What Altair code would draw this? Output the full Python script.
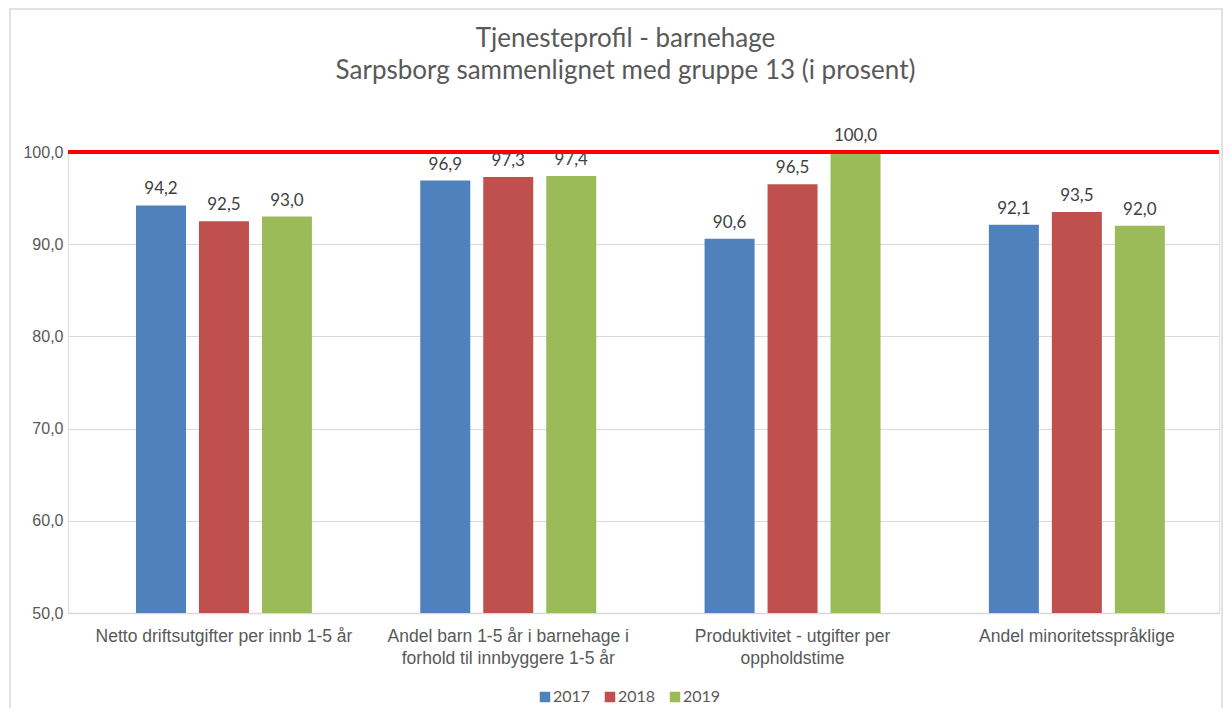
import altair as alt
import pandas as pd

# ---- data ----
categories = [
    "Netto driftsutgifter per innb 1-5 år",
    "Andel barn 1-5 år i barnehage i|forhold til innbyggere 1-5 år",
    "Produktivitet - utgifter per|oppholdstime",
    "Andel minoritetsspråklige",
]
years = ["2017", "2018", "2019"]
values_2017 = [94.2, 96.9, 90.6, 92.1]
values_2018 = [92.5, 97.3, 96.5, 93.5]
values_2019 = [93.0, 97.4, 100.0, 92.0]
colors = ["#4F81BD", "#C0504D", "#9BBB59"]
reference_level = [100.0]
y_min = 50
y_ticks = [50, 60, 70, 80, 90, 100]
title_lines = ["Tjenesteprofil - barnehage", "Sarpsborg sammenlignet med gruppe 13 (i prosent)"]

rows = []
for yr, vals in zip(years, [values_2017, values_2018, values_2019]):
    for c, v in zip(categories, vals):
        rows.append({"kategori": c, "aar": yr, "verdi": v})
df = pd.DataFrame(rows)

W, H = 1151, 461
FONT = "Lato"
GRAY = "#595959"

x_enc = alt.X(
    "kategori:N",
    sort=categories,
    scale=alt.Scale(paddingInner=0, paddingOuter=0.0243, align=1),
    axis=alt.Axis(
        title=None,
        labelExpr="split(datum.label, '|')",
        labelAngle=0,
        labelFontSize=17.5,
        labelColor=GRAY,
        labelPadding=14,
        labelLineHeight=22,
        labelLimit=0,
        domainColor="#D9D9D9",
        domainWidth=1.5,
        ticks=False,
        grid=False,
    ),
)
xoff = alt.XOffset("aar:N", sort=years, scale=alt.Scale(paddingInner=0.206, paddingOuter=0.86))
y_enc = alt.Y(
    "verdi:Q",
    scale=alt.Scale(domain=[y_min, 100], nice=False, zero=False),
    axis=alt.Axis(
        values=y_ticks,
        title=None,
        labelExpr="replace(format(datum.value, '.1f'), '.', ',')",
        gridColor="#D9D9D9",
        domain=False,
        ticks=False,
        labelFontSize=16,
        labelColor=GRAY,
        labelPadding=5,
    ),
)

frame = alt.Chart(pd.DataFrame({"f": [0]})).mark_rect(
    fillOpacity=0, stroke="#D9D9D9", strokeWidth=1.5
).encode(
    x=alt.value(-58), x2=alt.value(W + 3), y=alt.value(-143), y2=alt.value(H + 120)
)

bars = alt.Chart(df).mark_bar().encode(
    x=x_enc,
    xOffset=xoff,
    y=y_enc,
    y2=alt.datum(y_min),
    color=alt.Color(
        "aar:N",
        scale=alt.Scale(domain=years, range=colors),
        legend=alt.Legend(
            title=None,
            orient="none",
            legendX=469,
            legendY=537,
            direction="horizontal",
            symbolType="square",
            symbolSize=110,
            symbolStrokeWidth=0,
            labelFontSize=16,
            labelColor=GRAY,
            labelFont=FONT,
            columnPadding=11,
            labelOffset=0,
        ),
    ),
)

text = alt.Chart(df).transform_calculate(
    lbl="replace(format(datum.verdi, '.1f'), '.', ',')"
).mark_text(dy=-11, baseline="alphabetic", fontSize=17, color="#404040", font=FONT).encode(
    x=alt.X("kategori:N", sort=categories),
    xOffset=alt.XOffset("aar:N", sort=years),
    y=alt.Y("verdi:Q"),
    text="lbl:N",
)

rule = alt.Chart(pd.DataFrame({"ref": reference_level})).mark_rule(
    color="#FF0000", strokeWidth=4
).encode(y=alt.Y("ref:Q"))

chart = alt.layer(frame, bars, text, rule).properties(
    width=W,
    height=H,
    padding={"left": 60, "top": 144, "right": 4, "bottom": 95},
    autosize=alt.AutoSizeParams(type="none"),
    title=alt.TitleParams(
        text=title_lines,
        anchor="middle",
        frame="group",
        fontSize=26,
        font=FONT,
        color=GRAY,
        fontWeight="normal",
        lineHeight=32,
        offset=-76,
        dx=-18,
    ),
).configure_view(stroke=None).configure_axis(labelFont=FONT).configure(background="white")

chart.save("out.html", embed_options={"renderer": "svg", "actions": False})
